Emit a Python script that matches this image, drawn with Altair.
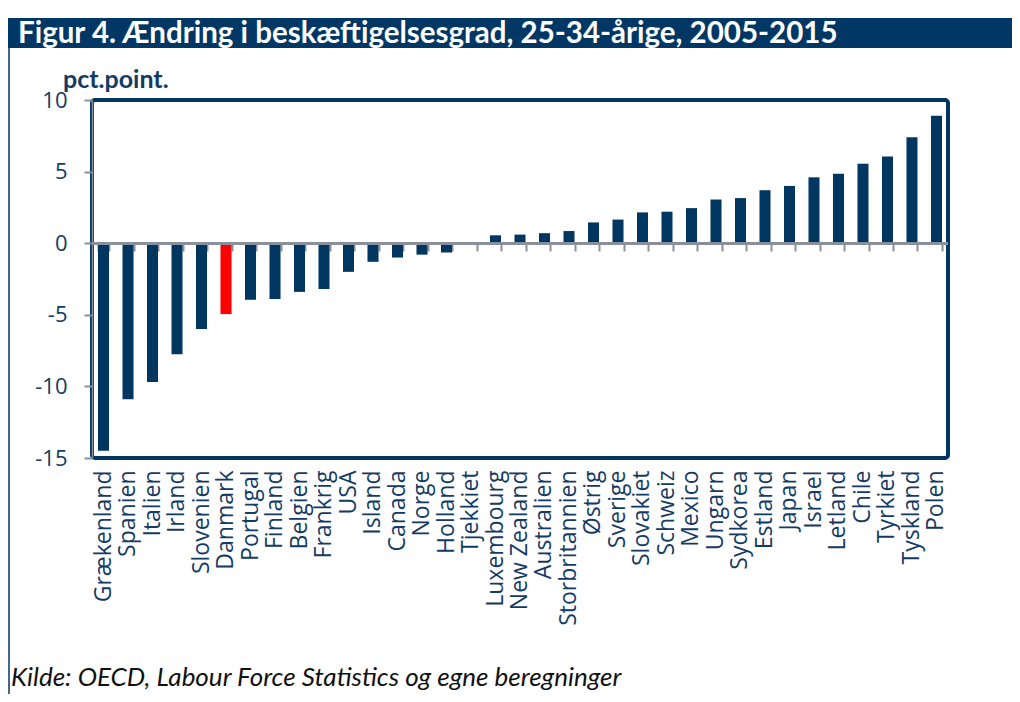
import altair as alt
import pandas as pd

lande = ["Grækenland", "Spanien", "Italien", "Irland", "Slovenien", "Danmark",
         "Portugal", "Finland", "Belgien", "Frankrig", "USA", "Island", "Canada",
         "Norge", "Holland", "Tjekkiet", "Luxembourg", "New Zealand", "Australien",
         "Storbritannien", "Østrig", "Sverige", "Slovakiet", "Schweiz", "Mexico",
         "Ungarn", "Sydkorea", "Estland", "Japan", "Israel", "Letland", "Chile",
         "Tyrkiet", "Tyskland", "Polen"]
vaerdier = [-14.5, -10.9, -9.7, -7.75, -6.0, -4.95,
            -3.95, -3.9, -3.4, -3.2, -2.0, -1.3, -1.0,
            -0.8, -0.65, -0.1, 0.55, 0.6, 0.7,
            0.85, 1.45, 1.65, 2.15, 2.2, 2.45,
            3.05, 3.15, 3.7, 4.0, 4.6, 4.85, 5.55,
            6.05, 7.4, 8.9]
fremhaevet = "Danmark"

titel = "Figur 4. Ændring i beskæftigelsesgrad, 25-34-årige, 2005-2015"
enhed = "pct.point."
kilde = "Kilde: OECD, Labour Force Statistics og egne beregninger"
y_ticks = [-15, -10, -5, 0, 5, 10]

NAVY = "#00365f"
LABEL = "#143b63"
GREY = "#8a8f9c"

df = pd.DataFrame({
    "land": lande,
    "v": vaerdier,
    "farve": [("#ff0000" if l == fremhaevet else NAVY) for l in lande],
})

W, H = 856, 358

xscale = alt.Scale(paddingInner=0.55, paddingOuter=0.245)
yscale = alt.Scale(domain=[-15, 10], nice=False, zero=False)

base = alt.Chart(df)

bars = base.mark_bar().encode(
    x=alt.X("land:N", sort=None, scale=xscale, title=None,
            axis=alt.Axis(labelAngle=-90, labelFont="Open Sans", labelFontSize=23,
                          labelColor=LABEL, labelPadding=12, ticks=False,
                          domain=False, labelOverlap=False)),
    y=alt.Y("v:Q", scale=yscale, title=None,
            axis=alt.Axis(values=y_ticks, labelExpr="'' + datum.value",
                          labelFont="Open Sans", labelFontSize=22,
                          labelColor=LABEL, labelPadding=17, tickColor=GREY,
                          tickSize=8, tickWidth=2, domainColor=GREY,
                          domainWidth=1.5, grid=False)),
    color=alt.Color("farve:N", scale=None),
)

zero = base.mark_rule(color=GREY, strokeWidth=2.5).encode(y=alt.datum(0))

tick_axis = base.mark_point(opacity=0).encode(
    x=alt.X("land:N", sort=None, scale=xscale, title=None,
            axis=alt.Axis(orient="top", offset=-151, labels=False, domain=False,
                          ticks=True, tickBand="extent", tickColor=GREY,
                          tickSize=8, tickWidth=2)),
)

one = pd.DataFrame({"a": [0]})
bar_rect = alt.Chart(one).mark_rect(color="#003764").encode(
    x=alt.value(-84), x2=alt.value(930), y=alt.value(-82), y2=alt.value(-52))
left_line = alt.Chart(one).mark_rule(color="#003764", strokeWidth=1.5).encode(
    x=alt.value(-83), y=alt.value(-52), y2=alt.value(600))
title_t = alt.Chart(one).mark_text(
    text=titel, font="Lato", fontWeight="bold", fontSize=29.5, color="white",
    align="left", baseline="alphabetic").encode(x=alt.value(-74), y=alt.value(-57))
unit_t = alt.Chart(one).mark_text(
    text=enhed, font="Lato", fontWeight="bold", fontSize=25, color=LABEL,
    align="left", baseline="alphabetic").encode(x=alt.value(-29), y=alt.value(-12))
src_t = alt.Chart(one).mark_text(
    text=kilde, font="Lato", fontStyle="italic", fontSize=26, color="#111111",
    align="left", baseline="alphabetic").encode(x=alt.value(-81), y=alt.value(586))

chart = alt.layer(bars, zero, tick_axis, bar_rect, left_line, title_t, unit_t, src_t).resolve_axis(
    x="independent"
).properties(
    width=W, height=H,
    autosize=alt.AutoSizeParams(type="none"),
    padding={"left": 84, "top": 92, "right": 64, "bottom": 236},
).configure_view(
    stroke=NAVY, strokeWidth=4, cornerRadius=3
)

chart.save("out.html", embed_options={"renderer": "svg", "actions": False})
